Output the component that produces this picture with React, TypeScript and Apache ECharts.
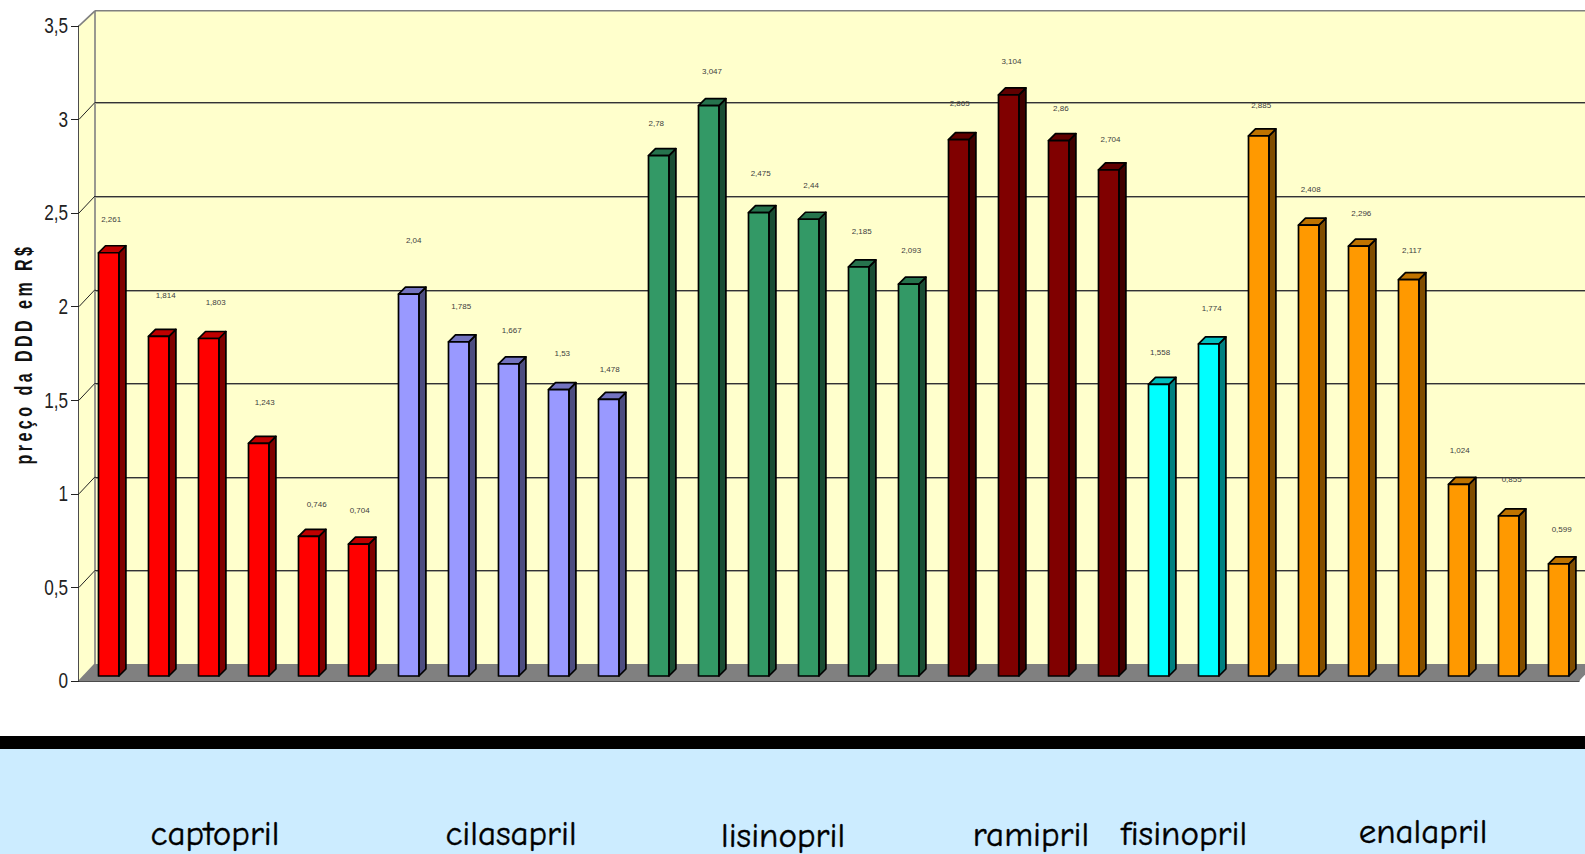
import React, { useEffect, useRef } from "react";
import * as echarts from "echarts";

// Prices per drug family, one value per presentation.
const captopril = [2.261, 1.814, 1.803, 1.243, 0.746, 0.704];
const cilasapril = [2.04, 1.785, 1.667, 1.53, 1.478];
const lisinopril = [2.78, 3.047, 2.475, 2.44, 2.185, 2.093];
const ramipril = [2.865, 3.104, 2.86, 2.704];
const fisinopril = [1.558, 1.774];
const enalapril = [2.885, 2.408, 2.296, 2.117, 1.024, 0.855, 0.599];

const yTicks = [0, 0.5, 1, 1.5, 2, 2.5, 3, 3.5];
const yTitle = "preço da DDD em R$";

// Face, top and side colours of each family's bars.
const families = [
  { name: "captopril", values: captopril, face: "#FF0000", top: "#BF0000", side: "#800000" },
  { name: "cilasapril", values: cilasapril, face: "#9999FF", top: "#7373BF", side: "#4D4D80" },
  { name: "lisinopril", values: lisinopril, face: "#339966", top: "#26734D", side: "#1A4D33" },
  { name: "ramipril", values: ramipril, face: "#800000", top: "#600000", side: "#400000" },
  { name: "fisinopril", values: fisinopril, face: "#00FFFF", top: "#00BFBF", side: "#008080" },
  { name: "enalapril", values: enalapril, face: "#FF9900", top: "#BF7300", side: "#804D00" },
];

// Hand placement of the value captions relative to the top centre of their bar.
const captionDx = [2.5, 7, 7, 6, 8, 1, 5, 2.5, 3, 3.6, 1, -2.4, 3.3, 2, 2.4, 3, 2.5, 1, 2.7, 2.2, 1.8, 1.4, 3, 2.5, 2, 2.6, 3, 1, 3, 3];
const captionDy = [-33, -41, -36, -41, -32, -34, -53.5, -35.5, -33, -36, -30, -32, -34, -39, -34, -35.5, -33.5, -36.6, -33, -32.5, -30, -31.5, -35.5, -30, -36, -33, -29, -33.5, -36, -34];

// Where the family names sit on the blue panel.
const familyLabels = [
  { text: "captopril", x: 215, y: 833 },
  { text: "cilasapril", x: 511, y: 833 },
  { text: "lisinopril", x: 783, y: 835 },
  { text: "ramipril", x: 1031, y: 834 },
  { text: "fisinopril", x: 1184, y: 833 },
  { text: "enalapril", x: 1423, y: 831 },
];

const bars = families.flatMap((f) => f.values.map((value) => ({ ...f, value })));
const categories = bars.map((b) => b.name);

// Depth of the fake 3D box, in pixels.
const WALL_DX = 16;
const WALL_DY = -17;
const BAR_DX = 4.7;
const BAR_DY = -5;
const BAR_DEPTH = 7;
const BAR_WIDTH = 20.4;
const WALL_TOP_TRIM = 2;

const sansFont = "'Liberation Sans', Arial, sans-serif";

function renderBox(_params: any, api: any) {
  const band = api.size([1, 0])[0];
  const [cx0, y0] = api.coord([0, 0]);
  const [, yTop] = api.coord([0, 3.5]);
  const xl = cx0 - band / 2;
  const xr = xl + band * bars.length;
  const backTop = yTop + WALL_DY + WALL_TOP_TRIM;
  const wallFill = { fill: "#FFFFCC" };
  const edge = { stroke: "#808080", lineWidth: 1.6, fill: "none" };
  return {
    type: "group",
    children: [
      {
        type: "polygon",
        shape: { points: [[xl, y0], [xl + WALL_DX, y0 + WALL_DY], [xl + WALL_DX, backTop], [xl, yTop]] },
        style: wallFill,
      },
      {
        type: "rect",
        shape: { x: xl + WALL_DX, y: backTop, width: band * bars.length, height: y0 + WALL_DY - backTop },
        style: wallFill,
      },
      {
        type: "polygon",
        shape: { points: [[xl, y0], [xl + WALL_DX, y0 + WALL_DY], [xr + WALL_DX, y0 + WALL_DY], [xr, y0]] },
        style: { fill: "#808080" },
      },
      { type: "line", shape: { x1: xl + WALL_DX, y1: backTop, x2: xl + WALL_DX, y2: y0 + WALL_DY }, style: edge },
      { type: "line", shape: { x1: xl + WALL_DX, y1: backTop, x2: xr + WALL_DX, y2: backTop }, style: edge },
      { type: "line", shape: { x1: xl, y1: yTop, x2: xl + WALL_DX, y2: backTop }, style: edge },
      { type: "line", shape: { x1: xl, y1: y0, x2: xl + WALL_DX, y2: y0 + WALL_DY }, style: edge },
    ],
  };
}

// Condensed tick label for every value, plus the gridline and side-wall
// diagonal for the ones strictly inside the range.
function renderGridline(_params: any, api: any) {
  const tick = api.value(1);
  const band = api.size([1, 0])[0];
  const [cx0, y] = api.coord([0, tick]);
  const xl = cx0 - band / 2;
  const yb = Math.round(y + WALL_DY) + 0.5;
  const label = {
    type: "text",
    x: xl - 11,
    y: y - 0.5,
    scaleX: 0.78,
    style: {
      x: 0,
      y: 0,
      text: String(tick).replace(".", ","),
      fill: "#222222",
      font: `22px ${sansFont}`,
      align: "right",
      verticalAlign: "middle",
    },
  };
  const inner = tick > 0 && tick < 3.5;
  return {
    type: "group",
    children: inner
      ? [
          { type: "line", shape: { x1: xl + WALL_DX, y1: yb + 1, x2: xl + WALL_DX + band * bars.length, y2: yb + 1 }, style: { stroke: "#A8A890", lineWidth: 1 } },
          { type: "line", shape: { x1: xl + WALL_DX, y1: yb, x2: xl + WALL_DX + band * bars.length, y2: yb }, style: { stroke: "#333333", lineWidth: 1 } },
          { type: "line", shape: { x1: xl, y1: y, x2: xl + WALL_DX, y2: y + WALL_DY }, style: { stroke: "#222222", lineWidth: 1 } },
          label,
        ]
      : [label],
  };
}

function renderBar(params: any, api: any) {
  const i = params.dataIndex;
  const bar = bars[i];
  const [cx, yv] = api.coord([i, api.value(1)]);
  const [, y0] = api.coord([i, 0]);
  const left = cx + BAR_DX - BAR_WIDTH / 2;
  const right = left + BAR_WIDTH;
  const top = yv + BAR_DY;
  const base = y0 + BAR_DY;
  const outline = { stroke: "#000000", lineWidth: 1.7, lineJoin: "round" };
  return {
    type: "group",
    children: [
      {
        type: "polygon",
        shape: { points: [[right, top], [right + BAR_DEPTH, top - BAR_DEPTH], [right + BAR_DEPTH, base - BAR_DEPTH], [right, base]] },
        style: { fill: bar.side, ...outline },
      },
      {
        type: "polygon",
        shape: { points: [[left, top], [left + BAR_DEPTH, top - BAR_DEPTH], [right + BAR_DEPTH, top - BAR_DEPTH], [right, top]] },
        style: { fill: bar.top, ...outline },
      },
      {
        type: "rect",
        shape: { x: left, y: top, width: BAR_WIDTH, height: base - top },
        style: { fill: bar.face, ...outline },
      },
      {
        type: "text",
        style: {
          x: cx + BAR_DX + captionDx[i],
          y: top + captionDy[i],
          text: String(bar.value).replace(".", ","),
          fill: "#404040",
          font: `8px ${sansFont}`,
          align: "center",
          verticalAlign: "middle",
        },
      },
    ],
  };
}

export default function App() {
  const ref = useRef<HTMLDivElement>(null);

  useEffect(() => {
    document.body.style.margin = "0";
    const chart = echarts.init(ref.current!, undefined, { renderer: "svg" });
    chart.setOption({
      animation: false,
      backgroundColor: "#FFFFFF",
      grid: { left: 79, width: 1500, top: 25.8, height: 655.2, containLabel: false, outerBoundsMode: "none" },
      xAxis: {
        type: "category",
        data: categories,
        axisLabel: { show: false },
        axisTick: { show: false },
        axisLine: { show: true, lineStyle: { color: "#111111", width: 1.5 } },
        splitLine: { show: false },
      },
      yAxis: {
        type: "value",
        min: 0,
        max: 3.5,
        interval: 0.5,
        axisLabel: { show: false },
        axisTick: { show: true, length: 8, lineStyle: { color: "#222222", width: 1 } },
        axisLine: { show: true, lineStyle: { color: "#111111", width: 1.5 } },
        splitLine: { show: false },
      },
      series: [
        { type: "custom", renderItem: renderBox, data: [[0, 0]], silent: true, z: 1 },
        {
          type: "custom",
          renderItem: renderGridline,
          data: yTicks.map((t) => [0, t]),
          silent: true,
          z: 2,
        },
        {
          type: "custom",
          renderItem: renderBar,
          data: bars.map((b, i) => [i, b.value]),
          silent: true,
          z: 3,
        },
      ],
      graphic: [
        {
          type: "text",
          x: 24,
          y: 354,
          rotation: Math.PI / 2,
          scaleX: 0.7,
          style: {
            text: yTitle,
            font: `bold 23px ${sansFont}`,
            fill: "#111111",
            align: "center",
            verticalAlign: "middle",
          },
        },
        { type: "rect", z: 10, shape: { x: 0, y: 736, width: 1585, height: 13 }, style: { fill: "#000000" } },
        { type: "rect", z: 10, shape: { x: 0, y: 749, width: 1585, height: 105 }, style: { fill: "#CCECFF" } },
        ...familyLabels.map((l) => ({
          type: "text",
          z: 11,
          x: l.x,
          y: l.y,
          style: {
            text: l.text,
            font: "35px 'Comic Sans MS', 'Comic Neue', Lato, sans-serif",
            lineHeight: 34,
            fill: "#000000",
            stroke: "#000000",
            lineWidth: 0.4,
            align: "center",
            verticalAlign: "middle",
          },
        })),
      ],
    });
    // zrender text has no letter spacing, so the axis title gets it on its SVG node.
    const titleNode = Array.from(ref.current!.querySelectorAll("text")).find((t) => t.textContent === yTitle);
    if (titleNode) titleNode.style.letterSpacing = "4.9px";
    return () => chart.dispose();
  }, []);

  return <div ref={ref} style={{ position: "fixed", left: 0, top: 0, width: 1585, height: 854 }} />;
}
